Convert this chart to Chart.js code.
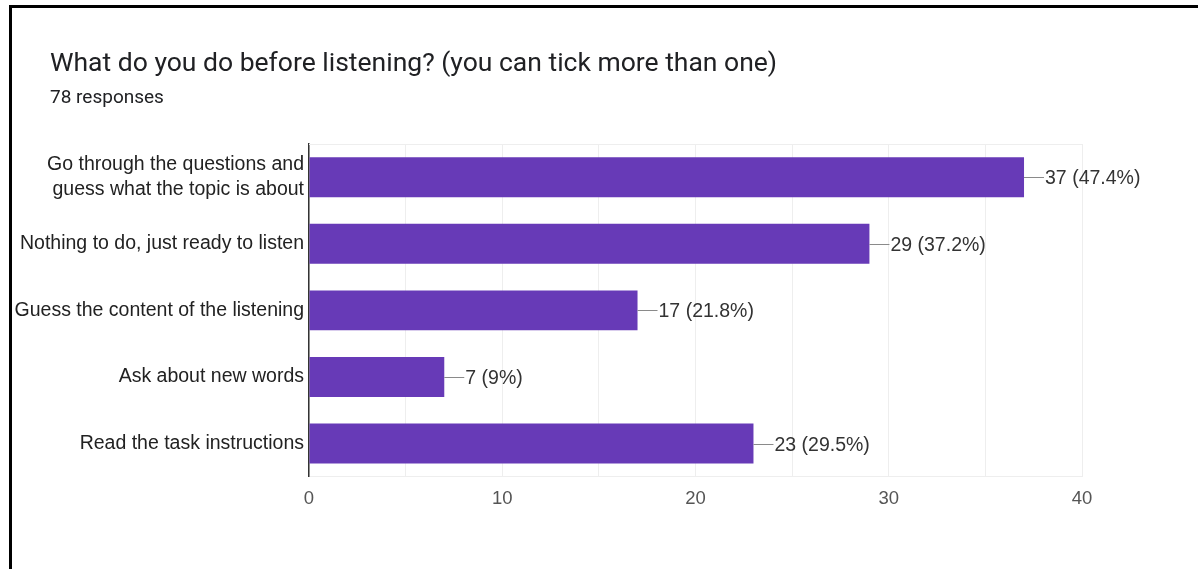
<!DOCTYPE html>
<html>
<head>
<meta charset="utf-8">
<script src="https://cdn.jsdelivr.net/npm/chart.js@4/dist/chart.umd.min.js"></script>
<style>
  html, body { margin: 0; padding: 0; background: #fff; }
  #wrap { position: relative; width: 1198px; height: 569px; }
</style>
</head>
<body>
<div id="wrap"><canvas id="c" width="1198" height="569"></canvas></div>
<script>
// Survey question and answers
const questionTitle = 'What do you do before listening? (you can tick more than one)';
const responseCount = 78;
const categories = [
  ['Go through the questions and', 'guess what the topic is about'],
  'Nothing to do, just ready to listen',
  'Guess the content of the listening',
  'Ask about new words',
  'Read the task instructions'
];
const counts = [37, 29, 17, 7, 23];
const xTicks = [0, 10, 20, 30, 40];

const BAR_COLOR = '#673ab7';
const LABEL_FONT = '"Liberation Sans", Arial, sans-serif';
const HEAD_FONT = 'Roboto, "Open Sans", sans-serif';

function pctText(v) {
  const p = Math.round(v / responseCount * 1000) / 10;
  return v + ' (' + p + '%)';
}

// card frame, heading text and the light box around the plot
const framePlugin = {
  id: 'frame',
  beforeDraw(chart) {
    const ctx = chart.ctx;
    ctx.save();
    ctx.fillStyle = '#fff';
    ctx.fillRect(0, 0, chart.width, chart.height);
    ctx.fillStyle = '#000';
    ctx.fillRect(9, 5, chart.width - 9, 3);
    ctx.fillRect(9, 5, 3, chart.height - 5);

    ctx.fillStyle = '#202124';
    ctx.textAlign = 'left';
    ctx.textBaseline = 'middle';
    ctx.font = '26.5px ' + HEAD_FONT;
    ctx.fillText(questionTitle, 50, 64);
    ctx.font = '19px ' + HEAD_FONT;
    ctx.fillText(responseCount + ' responses', 50, 98);
    ctx.restore();
  },
  beforeDatasetsDraw(chart) {
    const { ctx, chartArea } = chart;
    ctx.save();
    ctx.strokeStyle = '#eeeeee';
    ctx.lineWidth = 1;
    ctx.beginPath();
    ctx.moveTo(chartArea.left, chartArea.top + 0.5);
    ctx.lineTo(chartArea.right, chartArea.top + 0.5);
    ctx.stroke();
    ctx.restore();
  }
};

// value labels with a short leader line at the end of each bar
const valueLabels = {
  id: 'valueLabels',
  afterDatasetsDraw(chart) {
    const ctx = chart.ctx;
    const meta = chart.getDatasetMeta(0);
    ctx.save();
    ctx.font = '19.5px ' + LABEL_FONT;
    ctx.textBaseline = 'middle';
    ctx.textAlign = 'left';
    meta.data.forEach((bar, i) => {
      const x = bar.x, y = Math.round(bar.y) + 0.5;
      ctx.strokeStyle = '#8a8a8a';
      ctx.lineWidth = 1;
      ctx.beginPath();
      ctx.moveTo(x, y);
      ctx.lineTo(x + 20, y);
      ctx.stroke();
      ctx.fillStyle = '#333333';
      ctx.fillText(pctText(counts[i]), x + 21, y + 1);
    });
    ctx.restore();
  }
};

new Chart(document.getElementById('c'), {
  type: 'bar',
  data: {
    labels: categories,
    datasets: [{
      data: counts,
      backgroundColor: BAR_COLOR,
      borderWidth: 0,
      categoryPercentage: 1,
      barPercentage: 0.6
    }]
  },
  plugins: [framePlugin, valueLabels],
  options: {
    indexAxis: 'y',
    responsive: false,
    animation: false,
    devicePixelRatio: 1,
    layout: { padding: { left: 12, right: 116, top: 144, bottom: 48 } },
    plugins: {
      legend: { display: false },
      tooltip: { enabled: false },
      title: { display: false }
    },
    scales: {
      x: {
        min: 0,
        max: 40,
        afterBuildTicks(axis) {
          axis.ticks = Array.from({ length: 9 }, (_, k) => ({ value: k * 5 }));
        },
        grid: { color: '#eeeeee', lineWidth: 1, drawTicks: false },
        border: { color: '#eeeeee', width: 1 },
        ticks: {
          padding: 11,
          color: '#555555',
          font: { family: LABEL_FONT, size: 18.5 },
          callback: (v) => (xTicks.includes(v) ? String(v) : '')
        }
      },
      y: {
        afterFit(axis) { axis.width = 297; },
        grid: { display: false, drawTicks: false },
        border: { color: '#333333', width: 1.5 },
        ticks: {
          padding: 5,
          color: '#222222',
          font: { family: LABEL_FONT, size: 19.5, lineHeight: 1.3 }
        }
      }
    }
  }
});
</script>
</body>
</html>
